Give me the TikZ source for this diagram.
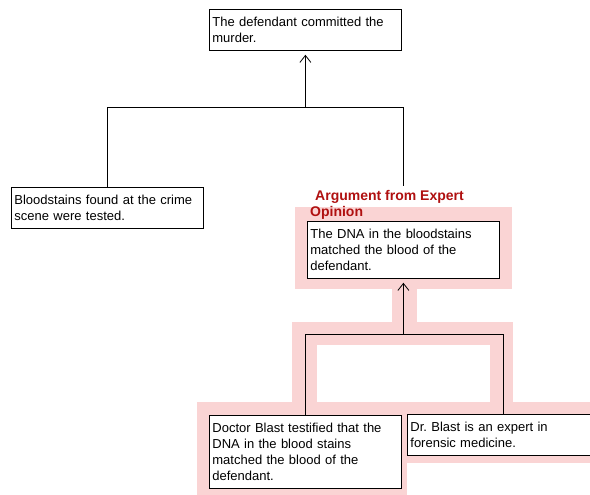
\documentclass[tikz,border=0pt]{standalone}
\usepackage{fontspec}
\setmainfont{Liberation Sans}
\usetikzlibrary{arrows.meta}
\definecolor{hipink}{RGB}{250,212,212}
\definecolor{labred}{RGB}{176,16,16}
\frenchspacing
\tikzset{
  claim/.style={draw=black, line width=0.8pt, fill=white, anchor=north west,
    align=left, text width=186pt, inner xsep=3pt, inner ysep=2pt,
    font=\fontsize{13}{16}\selectfont},
  link/.style={draw=black, line width=0.8pt},
  uparrow/.style={link, -{Straight Barb[length=7pt,width=11pt,line width=0.8pt]}, shorten >=4pt},
  argname/.style={anchor=north west, inner sep=0pt, align=left, text=labred,
    font=\fontsize{14}{16}\selectfont\bfseries}
}
\begin{document}
\begin{tikzpicture}[x=1pt,y=-1pt]
\useasboundingbox (0,0) rectangle (590,495);
\fill[white] (0,0) rectangle (590,495);
% highlight band
\begin{scope}[hipink]
\fill (295,207) rectangle (512,289);
\fill (392,288) rectangle (417,323);
\fill (292,322) rectangle (513,345);
\fill (292,344) rectangle (317,403);
\fill (490,344) rectangle (513,403);
\fill (197,402) rectangle (590,463);
\fill (197,462) rectangle (407,495);
\end{scope}
% nodes
\node[claim, minimum height=41pt] (top) at (209,9) {The defendant committed the\\murder.};
\node[claim, minimum height=41pt] (left) at (11,187) {Bloodstains found at the crime\\scene were tested.};
\node[claim, minimum height=57pt] (dna) at (307,221) {The DNA in the bloodstains\\matched the blood of the\\defendant.};
\node[argname] (lab) at (310,190) {\hspace*{5pt}Argument from Expert\\Opinion};
\node[claim, minimum height=73pt] (doc) at (209,415) {Doctor Blast testified that the\\DNA in the blood stains\\matched the blood of the\\defendant.};
\node[claim, minimum height=41pt] (blast) at (407,414) {Dr. Blast is an expert in\\forensic medicine.};
% junctions
\coordinate (hb) at (0,107);
\coordinate (labtop) at (0,186);
\coordinate (hb2) at (0,334);
% connectors
\draw[link] (left.north) |- (hb -| dna.north) -- (labtop -| dna.north);
\draw[uparrow] (top.south |- hb) -- (top.south);
\draw[link] (doc.north) |- (hb2 -| blast.north) -- (blast.north);
\draw[uparrow] (dna.south |- hb2) -- (dna.south);
\end{tikzpicture}
\end{document}
